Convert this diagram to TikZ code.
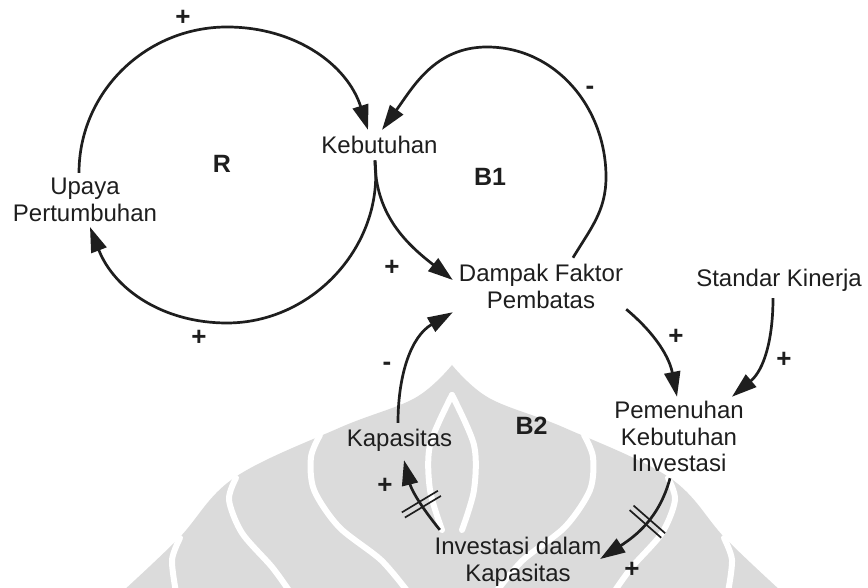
\documentclass[tikz,border=0pt]{standalone}
\usepackage{fontspec}
\setmainfont{Liberation Sans}
\usetikzlibrary{arrows.meta,decorations.markings}
\definecolor{ink}{HTML}{1E1E1E}
\definecolor{wmgray}{HTML}{DBDBDB}

\begin{document}
\begin{tikzpicture}[x=1pt,y=1pt,
  var/.style={font=\fontsize{24}{26.5}\selectfont, text=ink, inner sep=0pt, align=center},
  loopname/.style={font=\fontsize{25}{26}\selectfont\bfseries, text=ink, inner sep=0pt, anchor=base},
  pol/.style={font=\fontsize{26}{26}\selectfont\bfseries, text=ink, inner sep=0pt},
  link/.style={draw=ink, line width=2.7pt, -{Triangle[length=25pt,width=16pt]}},
  delay/.style={postaction={decorate}, decoration={markings,
      mark=at position #1 with {
        \draw[-, ink, line width=1.7pt] (-3,-21) -- (-3,21);
        \draw[-, ink, line width=1.7pt] (3,-21) -- (3,21);}}},
  wmline/.style={draw=white, line width=6pt, line cap=round},
]
\useasboundingbox (0,0) rectangle (868,588);
\fill[white] (0,0) rectangle (868,588);

% faint emblem in the background
\begin{scope}
  \clip (0,0) rectangle (868,588);
  \fill[wmgray]
    plot[smooth, tension=0.6] coordinates {(122,-4) (179,50) (234,110) (339,160) (415,190) (452,223)}
    -- plot[smooth, tension=0.6] coordinates {(452,223) (489,190) (565,160) (670,110) (725,50) (782,-4)}
    -- cycle;
  \draw[wmline] plot[smooth] coordinates {(320,153) (311,131) (314,98) (339,61) (381,28) (408,-4)};
  \draw[wmline] plot[smooth] coordinates {(584,153) (593,131) (590,98) (565,61) (523,28) (496,-4)};
  \draw[wmline] plot[smooth] coordinates {(236,110) (229,88) (242,55) (272,21) (290,-4)};
  \draw[wmline] plot[smooth] coordinates {(668,110) (675,88) (662,55) (632,21) (614,-4)};
  \draw[wmline] plot[smooth] coordinates {(180,50) (172,28) (176,-4)};
  \draw[wmline] plot[smooth] coordinates {(724,50) (732,28) (728,-4)};
  \draw[wmline] plot[smooth] coordinates {(452,193) (430,143) (430,98) (442,58)};
  \draw[wmline] plot[smooth] coordinates {(452,193) (474,143) (474,98) (462,58)};
\end{scope}

% variables
\node[var, anchor=base] (keb) at (379.5,434.5) {Kebutuhan};
\node[var] (upaya) at (85,388.3) {Upaya\\Pertumbuhan};
\node[var] (dampak) at (541,301.5) {Dampak Faktor\\Pembatas};
\node[var, anchor=base] (standar) at (779,301) {Standar Kinerja};
\node[var] (pem) at (679,151.25) {Pemenuhan\\Kebutuhan\\Investasi};
\node[var, anchor=base] (kap) at (399.5,141) {Kapasitas};
\node[var] (inv) at (518,26) {Investasi dalam\\Kapasitas};

% loop names
\node[loopname] (lR) at (222,415) {R};
\node[loopname] (lB1) at (490,402) {B1};
\node[loopname] (lB2) at (531.5,153) {B2};

% waypoints of the two big loops
\coordinate (Rtop) at (227,561);
\coordinate (Rbot) at (227,265);
\coordinate (B1r) at (606,411);
\coordinate (B1t) at (487,541);

% reinforcing loop R
\draw[link] ([shift={(-6,5)}]upaya.north) to[out=90,in=180] (Rtop)
  to[out=0,in=107.5] ([shift={(-11.5,6)}]keb.north);
\draw[link] ([shift={(-4.5,-6.5)}]keb.south) to[out=-84,in=0] (Rbot)
  to[out=180,in=-69] ([shift={(5,-5.5)}]upaya.south);

% balancing loop B1
\draw[link] ([shift={(-4.5,-6.5)}]keb.south) to[out=-90,in=142] ([shift={(-6,6.5)}]dampak.west);
\draw[link] ([shift={(32,6.5)}]dampak.north) to[out=59,in=-90] (B1r)
  to[out=90,in=0] (B1t) to[out=180,in=54] ([shift={(2.5,6)}]keb.north);

% balancing loop B2
\draw[link] ([shift={(3,-0.5)}]dampak.south east) to[out=-40,in=101] ([shift={(-2,4.5)}]pem.north);
\draw[link] ([shift={(-6,-6)}]standar.south) to[out=-90,in=40] ([shift={(53,4.5)}]pem.north);
\draw[link, delay=0.45] ([shift={(-9,-6)}]pem.south) to[out=-105,in=33] ([shift={(-1.4,3)}]inv.east);
\draw[link, delay=0.4] ([shift={(5.4,7.5)}]inv.north west) to[out=129,in=-76] ([shift={(4.5,-8)}]kap.south);
\draw[link] ([shift={(-1.5,6.5)}]kap.north) to[out=90,in=210] ([shift={(-6,-3.5)}]dampak.south west);

% link polarities
\node[pol] (p1) at (183,570) {+};
\node[pol] (p2) at (199,250) {+};
\node[pol] (p3) at (392,320) {+};
\node[pol] (p4) at (590,498) {-};
\node[pol] (p5) at (676,251) {+};
\node[pol] (p6) at (784,228) {+};
\node[pol] (p7) at (387,222) {-};
\node[pol] (p8) at (385,102) {+};
\node[pol] (p9) at (632,18) {+};
\end{tikzpicture}
\end{document}
